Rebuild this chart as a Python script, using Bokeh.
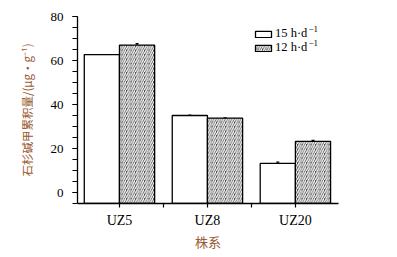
from bokeh.plotting import figure
from bokeh.models import ColumnDataSource, Legend, LegendItem, FixedTicker, Whisker, Range1d, Label
from bokeh.embed import file_html
from bokeh.resources import INLINE

strains = ["UZ5", "UZ8", "UZ20"]
val_15h = [62.7, 35.0, 13.2]
val_12h = [67.0, 33.8, 23.2]
err_15h = [0.0, 0.0, 0.6]
err_12h = [0.7, 0.0, 0.5]
series_labels = ["15 h\u00b7d", "12 h\u00b7d"]
series_sup = "\u22121"
y_ticks = [0, 20, 40, 60, 80]

SERIF = "Liberation Serif"
BROWN = "#9a5a32"

xs = [1, 2, 3]
w = 0.4
base = -5
X0, X1, Y0, Y1 = 0.523, 3.49, base, 80

p = figure(width=397, height=257, output_backend="svg", toolbar_location=None,
           x_range=Range1d(X0, X1), y_range=Range1d(Y0, Y1),
           min_border_left=77, min_border_right=59, min_border_top=16, min_border_bottom=54)
p.outline_line_color = None
p.xgrid.visible = False
p.ygrid.visible = False
p.background_fill_color = "white"

src15 = ColumnDataSource(dict(x=[x - w / 2 for x in xs], top=val_15h,
                              up=[v + e for v, e in zip(val_15h, err_15h)],
                              lo=[v - e for v, e in zip(val_15h, err_15h)]))
src12 = ColumnDataSource(dict(x=[x + w / 2 for x in xs], top=val_12h,
                              up=[v + e for v, e in zip(val_12h, err_12h)],
                              lo=[v - e for v, e in zip(val_12h, err_12h)]))

r15 = p.vbar(x="x", top="top", bottom=base, width=w, source=src15,
             fill_color="white", line_color="black", line_width=1.3)
r12 = p.vbar(x="x", top="top", bottom=base, width=w, source=src12,
             fill_color="#454545", line_color="black", line_width=1.3,
             hatch_pattern="/", hatch_color="white", hatch_scale=4.5, hatch_weight=1.3)

for s in (src15, src12):
    wk = Whisker(base="x", upper="up", lower="lo", source=s, line_color="black", line_width=1.3)
    wk.upper_head.size = 3
    wk.lower_head.size = 3
    wk.upper_head.line_width = 1.3
    wk.lower_head.line_width = 1.3
    p.add_layout(wk)

# axes
p.yaxis.ticker = FixedTicker(ticks=y_ticks, minor_ticks=list(range(-5, 81, 5)))
p.yaxis.major_tick_out = 5
p.yaxis.major_tick_in = 0
p.yaxis.minor_tick_out = 5
p.yaxis.minor_tick_in = 0
p.yaxis.axis_line_width = 1.3
p.yaxis.major_tick_line_width = 1.2
p.yaxis.minor_tick_line_width = 1.2
p.yaxis.major_label_text_font = SERIF
p.yaxis.major_label_text_font_size = "13px"
p.yaxis.major_label_text_color = "black"
p.yaxis.major_label_standoff = 9
p.yaxis.axis_label = "石杉碱甲累积量/(μg·g⁻¹)"
p.yaxis.axis_label_text_font = "Noto Sans CJK SC"
p.yaxis.axis_label_text_font_style = "normal"
p.yaxis.axis_label_text_font_size = "11.5px"
p.yaxis.axis_label_text_color = BROWN
p.yaxis.axis_label_standoff = 13

p.xaxis.ticker = FixedTicker(ticks=[1, 1.5, 2, 2.5, 3])
p.xaxis.major_label_overrides = {1: strains[0], 1.5: "", 2: strains[1], 2.5: "", 3: strains[2]}
p.xaxis.major_tick_out = 4
p.xaxis.major_tick_in = 0
p.xaxis.minor_tick_out = 0
p.xaxis.minor_tick_in = 0
p.xaxis.axis_line_width = 1.3
p.xaxis.major_tick_line_width = 1.2
p.xaxis.major_label_text_font = SERIF
p.xaxis.major_label_text_font_size = "14px"
p.xaxis.major_label_text_color = "black"
p.xaxis.major_label_standoff = 5
p.xaxis.axis_label = "株系"
p.xaxis.axis_label_text_font = "Noto Sans CJK SC"
p.xaxis.axis_label_text_font_style = "normal"
p.xaxis.axis_label_text_font_size = "13px"
p.xaxis.axis_label_text_color = BROWN
p.xaxis.axis_label_standoff = 1

# legend: one Legend per row so rows sit close together
def px_to_x(sx):
    return X0 + (sx - 77) / 261 * (X1 - X0)

def px_to_y(sy):
    return Y1 - (sy - 16) / 187 * (Y1 - Y0)

ROW = 14
for i, (r, lab) in enumerate(zip((r15, r12), series_labels)):
    lg = Legend(items=[LegendItem(label=lab, renderers=[r])],
                location=(176, 162 - ROW * i))
    lg.glyph_width = 20
    lg.glyph_height = 8
    lg.label_height = 8
    lg.label_standoff = 2
    lg.spacing = 0
    lg.padding = 0
    lg.margin = 0
    lg.border_line_color = None
    lg.background_fill_alpha = 0
    lg.label_text_font = SERIF
    lg.label_text_font_size = "12.5px"
    lg.label_text_color = "black"
    p.add_layout(lg, "center")
    p.add_layout(Label(x=px_to_x(308), y=px_to_y(31 + ROW * i), text=series_sup,
                       text_font=SERIF, text_font_size="9px", text_color="black",
                       text_baseline="bottom", text_align="left"))

open("out.html", "w").write(file_html(p, INLINE))
